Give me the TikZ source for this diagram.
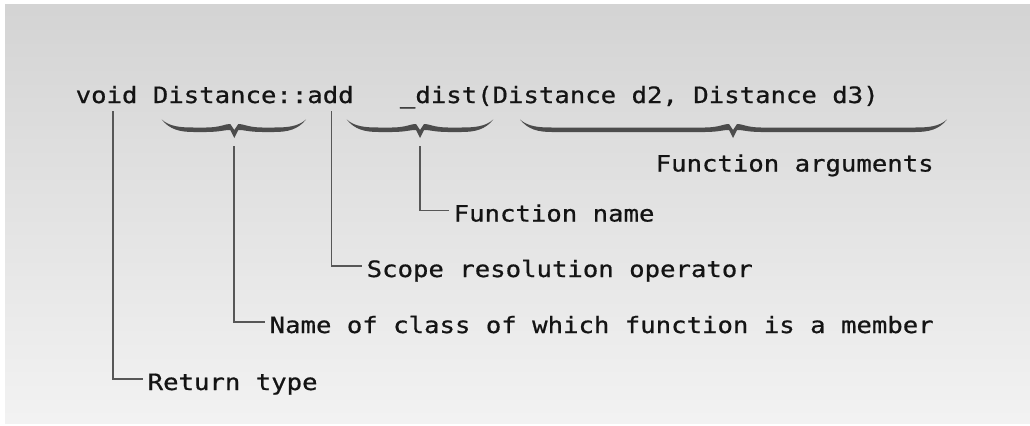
\documentclass[tikz,border=0pt]{standalone}
\usepackage{fontspec}
\newfontfamily\codefont[FakeStretch=1.14, FakeBold=0.7]{DejaVu Sans Mono}

% curly brace under the code line: left end, tip, right end
\newcommand{\fnbrace}[3]{%
  \fill[bracefill] (#1,119.5) .. controls ({#1+8},126.5) and ({#1+18},127.5) .. ({#1+32},127.5)
    -- ({#2-28},127.5) .. controls ({#2-14},127.5) and ({#2-8},123.5) .. ({#2-4},124) -- (#2,130)
    -- ({#2+4},124) .. controls ({#2+8},123.5) and ({#2+14},127.5) .. ({#2+28},127.5)
    -- ({#3-32},127.5) .. controls ({#3-18},127.5) and ({#3-8},126.5) .. (#3,119.5)
    .. controls ({#3-8},129.5) and ({#3-18},132) .. ({#3-32},132)
    -- ({#2+28},132) .. controls ({#2+14},132) and ({#2+8},129.5) .. ({#2+4},130) -- (#2,138)
    -- ({#2-4},130) .. controls ({#2-8},129.5) and ({#2-14},132) .. ({#2-28},132)
    -- ({#1+32},132) .. controls ({#1+18},132) and ({#1+8},129.5) .. (#1,119.5) -- cycle;%
}

\begin{document}
\begin{tikzpicture}[
  x=1bp, y=-1bp,
  every node/.style={font=\codefont\fontsize{22.5bp}{27bp}\selectfont, text=black!92},
  code/.style={anchor=base west, inner sep=0pt},
  note/.style={anchor=base west, inner xsep=4.5bp, inner ysep=0pt},
  lead/.style={draw=black!66, line width=1.9bp},
  bracefill/.style={fill=black!70}
]
\useasboundingbox[fill=white] (0,0) rectangle (1030,425);
\shade[top color=black!17, bottom color=black!5] (5,4) rectangle (1030,423);

% the signature
\node[code] (sig) at (75.5,103) {void Distance::add\ \ \ \_dist(Distance d2, Distance d3)};

\fnbrace{161.7}{234.3}{306}
\fnbrace{346.7}{420}{493.3}
\fnbrace{520}{733}{947}

\coordinate (voidtip) at (113,111);
\coordinate (classtip) at (234.3,146);
\coordinate (scopetip) at (331.5,111);
\coordinate (nametip) at (419.7,146);

% labels
\node[note] (args) at (651,171.5) {Function arguments};
\node[note] (fname) at (449,221.5) {Function name};
\node[note] (scope) at (362,277) {Scope resolution operator};
\node[note] (cls) at (265,333) {Name of class of which function is a member};
\node[note] (ret) at (143,390) {Return type};

\draw[lead] (nametip) |- ([yshift=11bp]fname.base west);
\draw[lead] (scopetip) |- ([yshift=11bp]scope.base west);
\draw[lead] (classtip) |- ([yshift=11bp]cls.base west);
\draw[lead] (voidtip) |- ([yshift=11bp]ret.base west);
\end{tikzpicture}
\end{document}
